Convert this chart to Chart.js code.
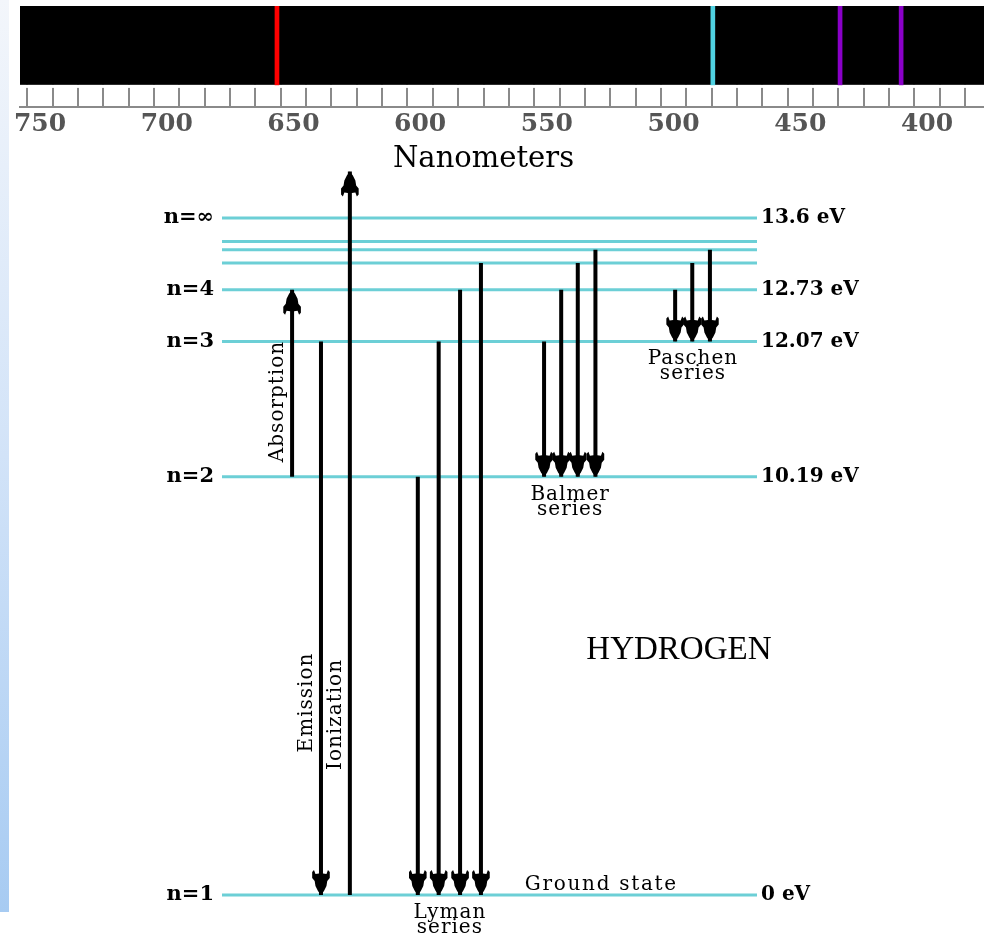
<!DOCTYPE html>
<html><head><meta charset="utf-8">
<script src="https://cdn.jsdelivr.net/npm/chart.js@4/dist/chart.umd.min.js"></script>
<style>
html,body{margin:0;padding:0;background:#fff;width:984px;height:937px;overflow:hidden}
#strip{position:absolute;left:0;top:0;width:9px;height:912px;background:linear-gradient(#f3f6fb,#d2e3f8 50%,#a7cbf2)}
canvas{position:absolute;left:0;top:0}
</style></head><body>
<div id="strip"></div>
<canvas id="diagram" width="984" height="937"></canvas>
<canvas id="spectrum" width="984" height="175"></canvas>
<script>
// ---------------- data ----------------
// Visible hydrogen (Balmer) emission lines, nm
const spectrumLinesNm = [656.5, 484.5, 434.3, 410.2];
const spectrumLineColors = ['#ff0000', '#50d2e2', '#8a00c8', '#8a00c8'];
const spectrumAxisNm = [377.5, 757.9];        // shown wavelength window
const spectrumTickStepNm = 10;
const spectrumLabelStepNm = 50;

// Energy levels of hydrogen (eV above ground state)
const levelN = ['1', '2', '3', '4', '5', '6', '7', '∞'];
const levelEnergyEv = [0, 10.19, 12.07, 12.73, 13.06, 13.22, 13.32, 13.6];
const levelLeftLabels = ['n=1', 'n=2', 'n=3', 'n=4', '', '', '', 'n=∞'];
const levelRightLabels = ['0 eV', '10.19 eV', '12.07 eV', '12.73 eV', '', '', '', '13.6 eV'];

// Transitions drawn as arrows
const transitionSeries = ['Absorption', 'Emission', 'Ionization',
  'Lyman', 'Lyman', 'Lyman', 'Lyman',
  'Balmer', 'Balmer', 'Balmer', 'Balmer',
  'Paschen', 'Paschen', 'Paschen'];
const transitionStartEv = [10.19, 12.07, 0, 10.19, 12.07, 12.73, 13.06, 12.07, 12.73, 13.06, 13.22, 12.73, 13.06, 13.22];
const transitionEndEv   = [12.73, 0, 14.14, 0, 0, 0, 0, 10.19, 10.19, 10.19, 10.19, 12.07, 12.07, 12.07];
// diagram column (0-100 across the level lines)
const transitionColumn  = [13.1, 18.5, 23.9, 36.6, 40.5, 44.5, 48.4, 60.2, 63.4, 66.5, 69.8, 84.7, 87.9, 91.2];

const seriesGroups = ['Lyman', 'Balmer', 'Paschen'];
const captionedArrows = ['Absorption', 'Emission', 'Ionization'];
const captionEnergyEv = [11.26, 6.22, 5.96];

// ---------------- helpers ----------------
const SERIF = 'DejaVu Serif';
function txt(ctx, s, x, y, font, o = {}) {
  ctx.save();
  ctx.font = font;
  ctx.fillStyle = o.color || '#000';
  ctx.textAlign = o.align || 'center';
  ctx.textBaseline = o.baseline || 'alphabetic';
  if (o.spacing) { try { ctx.letterSpacing = o.spacing + 'px'; } catch (e) {} }
  ctx.translate(x, y);
  if (o.rotate) ctx.rotate(o.rotate);
  ctx.fillText(s, o.spacing && (o.align || 'center') === 'center' ? o.spacing / 2 : 0, 0);
  ctx.restore();
}
const HEAD_R = [[0,0],[3,4],[5.5,9],[6.3,14],[8.8,17],[8.8,23],[7,25],[5.5,21],[2,21.5]];
const HEAD = [...HEAD_R, [0, 21.5], ...HEAD_R.slice(1).reverse().map(([x, y]) => [-x, y])];
function drawHead(ctx, x, y, dir) {
  ctx.save();
  ctx.beginPath();
  HEAD.forEach(([dx, dy], i) => {
    const px = x + dx, py = y - dir * dy;
    if (i) ctx.lineTo(px, py); else ctx.moveTo(px, py);
  });
  ctx.closePath();
  ctx.fillStyle = '#000';
  ctx.fill();
  ctx.restore();
}

// Schematic energy scale (diagram not to scale: upper levels spread out)
class SchematicEnergyScale extends Chart.LinearScale {
  _frac(v) {
    const c = 0.7;
    const e = (v - this.min) / (this.max - this.min);
    return (1 - c) * e + c * e * e;
  }
  getPixelForValue(value) { return this.getPixelForDecimal(this._frac(value)); }
  getValueForPixel(pixel) {
    const c = 0.7, d = this.getDecimalForPixel(pixel);
    const e = (-(1 - c) + Math.sqrt((1 - c) * (1 - c) + 4 * c * d)) / (2 * c);
    return this.min + e * (this.max - this.min);
  }
}
SchematicEnergyScale.id = 'schematicEnergy';
SchematicEnergyScale.defaults = Chart.LinearScale.defaults;
Chart.register(SchematicEnergyScale);

// ---------------- spectrum strip ----------------
const spectrumDecor = {
  id: 'spectrumDecor',
  beforeDatasetsDraw(chart) {
    const { ctx, chartArea: a } = chart;
    const y0 = chart.scales.y.getPixelForValue(0);
    ctx.save();
    ctx.fillStyle = '#000';
    ctx.fillRect(a.left, a.top, chart.width - a.left, y0 - a.top);
    ctx.fillStyle = '#fff';
    ctx.fillRect(a.left, y0, chart.width - a.left, 3);
    ctx.restore();
  },
  afterDraw(chart) {
    const xs = chart.scales.x;
    const mid = (Math.round(spectrumAxisNm[1] / spectrumLabelStepNm) * spectrumLabelStepNm +
                 Math.ceil(spectrumAxisNm[0] / spectrumLabelStepNm) * spectrumLabelStepNm) / 2;
    txt(chart.ctx, 'Nanometers', xs.getPixelForValue(mid), 167, '29px "' + SERIF + '"');
  }
};

new Chart(document.getElementById('spectrum'), {
  type: 'bar',
  data: {
    datasets: [{
      data: spectrumLinesNm.map(nm => ({ x: nm, y: 1 })),
      backgroundColor: spectrumLineColors,
      barThickness: 4
    }]
  },
  options: {
    responsive: false, animation: false, events: [],
    layout: { padding: { left: 20, right: 0, top: 6, bottom: 0 } },
    plugins: { legend: { display: false }, tooltip: { enabled: false } },
    scales: {
      x: {
        type: 'linear', reverse: true, offset: false,
        min: spectrumAxisNm[0], max: spectrumAxisNm[1],
        afterFit: s => { s.height = 68; },
        ticks: {
          stepSize: spectrumTickStepNm, includeBounds: false, autoSkip: false, maxRotation: 0,
          padding: 2, color: '#555',
          font: { family: SERIF, size: 25, weight: 'bold' },
          callback: v => (v % spectrumLabelStepNm === 0 ? String(v) : '')
        },
        grid: { color: '#8a8a8a', lineWidth: 2, drawTicks: false },
        border: { color: '#8a8a8a', width: 2 }
      },
      y: { display: false, min: -0.28, max: 1 }
    }
  },
  plugins: [spectrumDecor]
});

// ---------------- energy level diagram ----------------
const levelDatasets = levelEnergyEv.map((E, i) => ({
  label: 'n=' + levelN[i],
  data: [{ x: 0, y: E }, { x: 100, y: E }],
  borderColor: '#6ccfd6', borderWidth: 3, borderCapStyle: 'butt',
  pointRadius: 0, clip: false, order: 1
}));
const arrowDatasets = transitionSeries.map((s, i) => ({
  label: s,
  isArrow: true,
  data: [{ x: transitionColumn[i], y: transitionStartEv[i] }, { x: transitionColumn[i], y: transitionEndEv[i] }],
  borderColor: '#000', borderWidth: 4, borderCapStyle: 'butt',
  pointRadius: 0, clip: false, order: 0
}));

const diagramDecor = {
  id: 'diagramDecor',
  afterDatasetsDraw(chart) {
    const ctx = chart.ctx, xs = chart.scales.x, ys = chart.scales.y;
    // arrowheads
    chart.data.datasets.forEach((ds, i) => {
      if (!ds.isArrow) return;
      const pts = chart.getDatasetMeta(i).data;
      drawHead(ctx, pts[1].x, pts[1].y, pts[1].y > pts[0].y ? 1 : -1);
    });
    // captions along single arrows
    captionedArrows.forEach((name, k) => {
      const i = transitionSeries.indexOf(name);
      const x = xs.getPixelForValue(transitionColumn[i]) - 14;
      const y = ys.getPixelForValue(captionEnergyEv[k]);
      txt(ctx, name, x, y, '20px "' + SERIF + '"', { rotate: -Math.PI / 2, baseline: 'middle', spacing: 1 });
    });
    // series labels under the lower level
    seriesGroups.forEach(g => {
      const idx = transitionSeries.map((s, i) => (s === g ? i : -1)).filter(i => i >= 0);
      const cx = idx.reduce((a, i) => a + xs.getPixelForValue(transitionColumn[i]), 0) / idx.length;
      const low = Math.min(...idx.map(i => Math.min(transitionStartEv[i], transitionEndEv[i])));
      const y = ys.getPixelForValue(low);
      txt(ctx, g, cx, y + 23, '20px "' + SERIF + '"', { spacing: 1 });
      txt(ctx, 'series', cx, y + 38, '20px "' + SERIF + '"', { spacing: 1 });
    });
    // ground state
    txt(ctx, 'Ground state', xs.getPixelForValue(56.6), ys.getPixelForValue(levelEnergyEv[0]) - 5,
        '20px "' + SERIF + '"', { align: 'left', spacing: 1.7 });
    // title
    txt(ctx, 'HYDROGEN', xs.getPixelForValue(85.4), ys.getPixelForValue(7.12), '33px "Liberation Serif"');
  }
};

const labeledTicks = scale => {
  scale.ticks = levelEnergyEv.filter((E, i) => levelLeftLabels[i] !== '').map(E => ({ value: E }));
};

new Chart(document.getElementById('diagram'), {
  type: 'line',
  data: { datasets: [...levelDatasets, ...arrowDatasets] },
  options: {
    responsive: false, animation: false, events: [],
    layout: { padding: { left: 142, right: 107, top: 218, bottom: 42 } },
    plugins: { legend: { display: false }, tooltip: { enabled: false } },
    elements: { line: { tension: 0 } },
    scales: {
      x: { type: 'linear', display: false, min: 0, max: 100 },
      y: {
        type: 'schematicEnergy', position: 'left', min: 0, max: 13.6, bounds: 'data',
        afterFit: s => { s.width = 80; },
        afterBuildTicks: labeledTicks,
        grid: { display: false, drawTicks: false }, border: { display: false },
        ticks: {
          autoSkip: false, padding: 8, color: '#000',
          font: { family: SERIF, size: 21, weight: 'bold' },
          callback: v => levelLeftLabels[levelEnergyEv.indexOf(v)]
        }
      },
      y2: {
        type: 'schematicEnergy', position: 'right', min: 0, max: 13.6, bounds: 'data',
        afterFit: s => { s.width = 120; },
        afterBuildTicks: labeledTicks,
        grid: { display: false, drawTicks: false }, border: { display: false },
        ticks: {
          autoSkip: false, padding: 4, color: '#000',
          font: { family: SERIF, size: 20, weight: 'bold' },
          callback: v => levelRightLabels[levelEnergyEv.indexOf(v)]
        }
      }
    }
  },
  plugins: [diagramDecor]
});
</script>
</body></html>
